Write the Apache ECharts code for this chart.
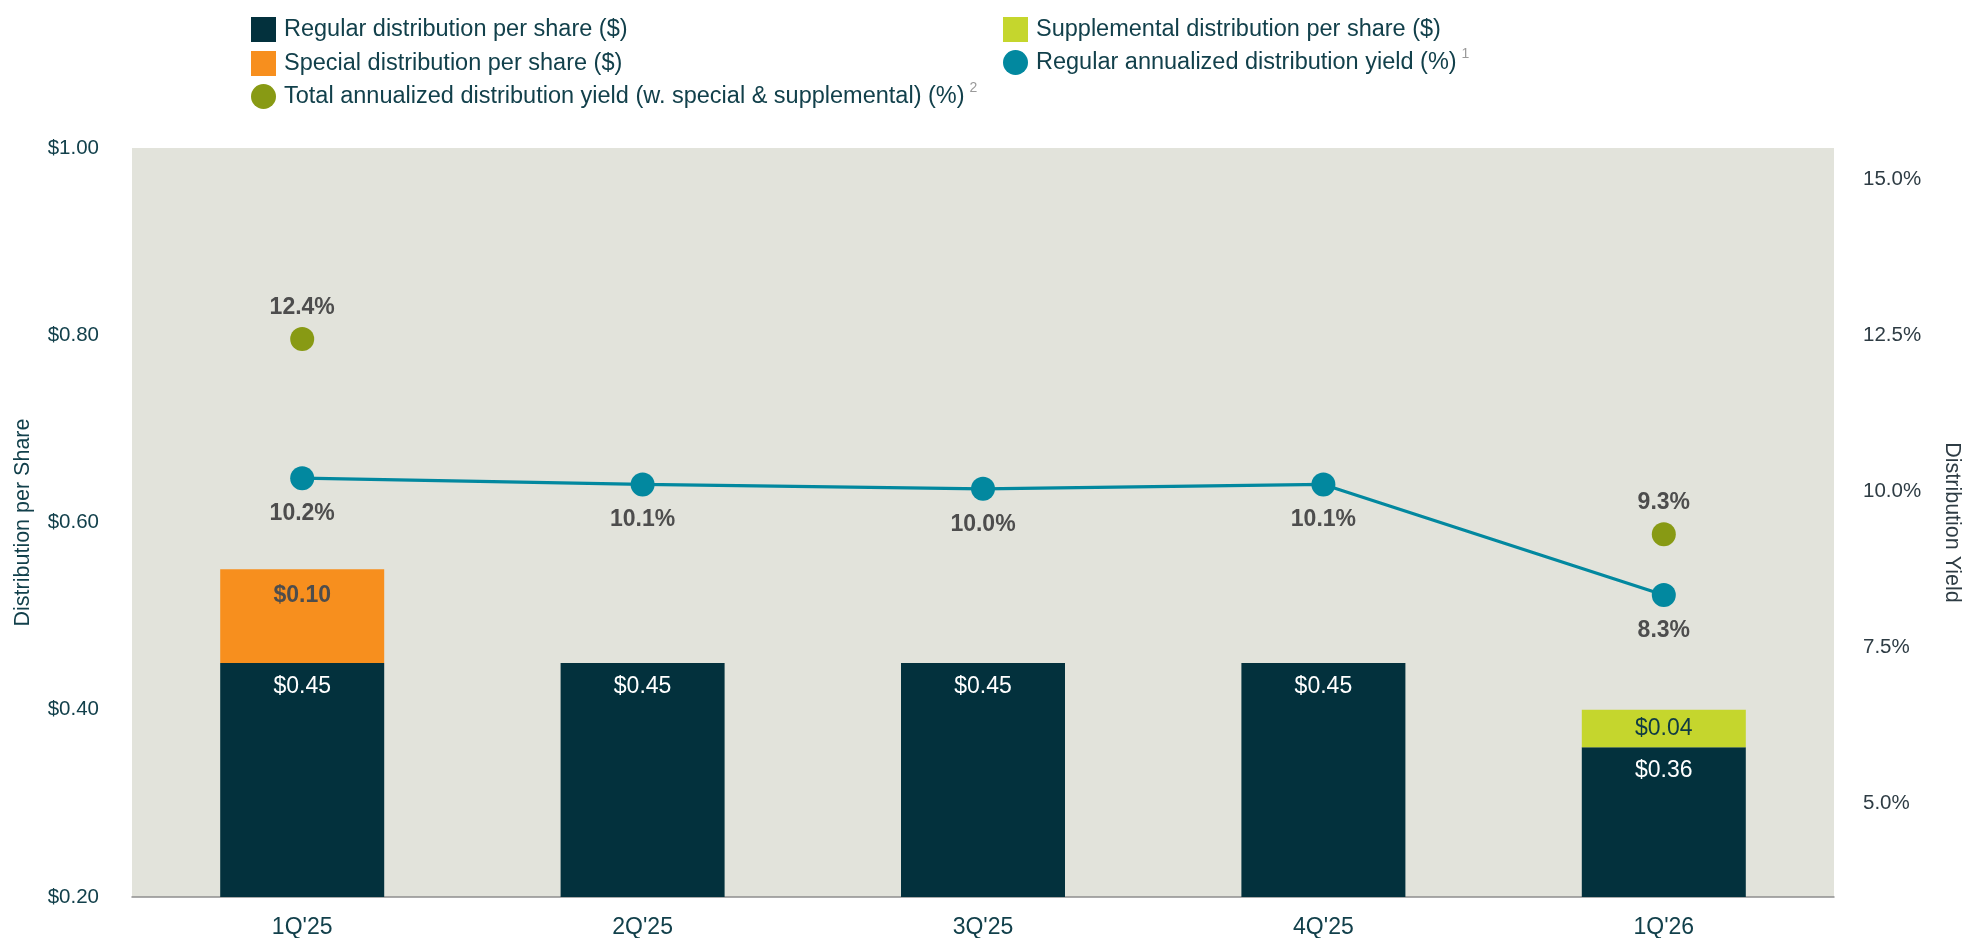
<!DOCTYPE html>
<html>
<head>
<meta charset="utf-8">
<script src="https://cdn.jsdelivr.net/npm/echarts@6/dist/echarts.min.js"></script>
<style>
    html, body { margin: 0; padding: 0; background: #ffffff; }
    #chart { width: 1963px; height: 938px; }
</style>
</head>
<body>
<div id="chart"></div>
<script>
// data
const categories = ["1Q'25", "2Q'25", "3Q'25", "4Q'25", "1Q'26"];
const regularPerShare = [0.45, 0.45, 0.45, 0.45, 0.36];
const specialPerShare = [0.10, '-', '-', '-', '-'];
const supplementalPerShare = ['-', '-', '-', '-', 0.04];
const regularYield = [10.21, 10.11, 10.04, 10.11, 8.34];
const totalYield = [12.44, '-', '-', '-', 9.31];
const shareTicks = [0.2, 0.4, 0.6, 0.8, 1.0];
const yieldTicks = [5, 7.5, 10, 12.5, 15];

const NAME_REG = "Regular distribution per share ($)";
const NAME_SPECIAL = "Special distribution per share ($)";
const NAME_SUPP = "Supplemental distribution per share ($)";
const NAME_REG_YIELD = "Regular annualized distribution yield (%)";
const NAME_TOTAL_YIELD = "Total annualized distribution yield (w. special & supplemental) (%)";

const FONT = '"Liberation Sans", Arial, Helvetica, sans-serif';
const TEXT_DARK = "#12404b";

const chart = echarts.init(document.getElementById("chart"));

// superscript footnote marks in legend
const footnotes = {};
footnotes[NAME_REG_YIELD] = "1";
footnotes[NAME_TOTAL_YIELD] = "2";

function legendText(name) {
    return footnotes[name] ? name + "{sup|" + footnotes[name] + "}" : name;
}

const legendBase = {
    itemWidth: 25,
    itemHeight: 25,
    formatter: legendText,
    textStyle: {
        fontFamily: FONT,
        fontSize: 23.5,
        lineHeight: 25,
        color: TEXT_DARK,
        padding: [0, 0, 0, 3],
        rich: {
            sup: {
                fontFamily: FONT,
                fontSize: 14,
                lineHeight: 10,
                color: "#9a9a9a",
                verticalAlign: "bottom",
                padding: [0, 0, 14, 5],
            },
        },
    },
};

// one legend per entry so the 2-column layout stays fixed
function legendItem(name, icon, left, top) {
    return Object.assign({}, legendBase, {
        left: left,
        top: footnotes[name] ? top - 4 : top,
        data: [{ name: name, icon: icon }],
    });
}

function dollar(p) {
    return "$" + Number(p.value).toFixed(2);
}
function pct(p) {
    return Number(p.value).toFixed(1) + "%";
}

const option = {
    animation: false,
    textStyle: { fontFamily: FONT },
    legend: [
        legendItem(NAME_REG, "rect", 246, 12),
        legendItem(NAME_SPECIAL, "rect", 246, 46),
        legendItem(NAME_TOTAL_YIELD, "circle", 246, 80),
        legendItem(NAME_SUPP, "rect", 998, 12),
        legendItem(NAME_REG_YIELD, "circle", 998, 46),
    ],
    grid: {
        left: 132,
        right: 129,
        top: 148,
        bottom: 41,
        outerBoundsMode: "none",
        show: true,
        backgroundColor: "#E2E3DB",
        borderWidth: 0,
    },
    xAxis: {
        type: "category",
        data: categories,
        axisTick: { show: false },
        axisLine: { lineStyle: { color: "#8f8f8f", width: 1.5 } },
        axisLabel: {
            fontFamily: FONT,
            fontSize: 23,
            color: TEXT_DARK,
            margin: 19,
        },
    },
    yAxis: [
        {
            type: "value",
            min: shareTicks[0],
            max: shareTicks[shareTicks.length - 1],
            interval: 0.2,
            name: "Distribution per Share",
            nameLocation: "middle",
            nameGap: 98,
            nameTextStyle: { fontFamily: FONT, fontSize: 21.5, color: TEXT_DARK },
            splitLine: { show: false },
            axisLine: { show: false },
            axisTick: { show: false },
            axisLabel: {
                fontFamily: FONT,
                fontSize: 20.5,
                color: TEXT_DARK,
                margin: 33,
                formatter: function (v) {
                    return "$" + v.toFixed(2);
                },
            },
        },
        {
            type: "value",
            position: "right",
            min: 3.5,
            max: 15.5,
            name: "Distribution Yield",
            nameLocation: "middle",
            nameRotate: -90,
            nameGap: 107,
            nameTextStyle: { fontFamily: FONT, fontSize: 21.5, color: "#2e3c44" },
            splitLine: { show: false },
            axisLine: { show: false },
            axisTick: { show: false },
            axisLabel: {
                customValues: yieldTicks,
                fontFamily: FONT,
                fontSize: 20.5,
                color: "#2e3c44",
                margin: 29,
                formatter: function (v) {
                    return v.toFixed(1) + "%";
                },
            },
        },
    ],
    series: [
        {
            name: NAME_REG,
            type: "bar",
            stack: "dist",
            barWidth: 164,
            itemStyle: { color: "#03313D" },
            label: {
                show: true,
                position: "insideTop",
                distance: 12,
                fontFamily: FONT,
                fontSize: 23,
                color: "#ffffff",
                formatter: dollar,
            },
            data: regularPerShare,
        },
        {
            name: NAME_SPECIAL,
            type: "bar",
            stack: "dist",
            itemStyle: { color: "#F78F1E" },
            label: {
                show: true,
                position: "insideTop",
                distance: 15,
                fontFamily: FONT,
                fontSize: 23,
                fontWeight: "bold",
                color: "#4d4d4d",
                formatter: dollar,
            },
            data: specialPerShare,
        },
        {
            name: NAME_SUPP,
            type: "bar",
            stack: "dist",
            itemStyle: { color: "#C5D62D" },
            label: {
                show: true,
                position: "inside",
                fontFamily: FONT,
                fontSize: 23,
                color: "#0f3a44",
                formatter: dollar,
            },
            data: supplementalPerShare,
        },
        {
            name: NAME_REG_YIELD,
            type: "line",
            yAxisIndex: 1,
            symbol: "circle",
            symbolSize: 24,
            z: 5,
            itemStyle: { color: "#02889F" },
            lineStyle: { color: "#02889F", width: 3.2 },
            label: {
                show: true,
                position: "bottom",
                distance: 12,
                fontFamily: FONT,
                fontSize: 23,
                fontWeight: "bold",
                color: "#4d4d4d",
                formatter: pct,
            },
            data: regularYield,
        },
        {
            name: NAME_TOTAL_YIELD,
            type: "scatter",
            yAxisIndex: 1,
            symbol: "circle",
            symbolSize: 24,
            z: 5,
            itemStyle: { color: "#889A14", opacity: 1 },
            label: {
                show: true,
                position: "top",
                distance: 8,
                fontFamily: FONT,
                fontSize: 23,
                fontWeight: "bold",
                color: "#4d4d4d",
                formatter: pct,
            },
            data: totalYield,
        },
    ],
};

chart.setOption(option);
window.addEventListener("resize", function () {
    chart.resize();
});
</script>
</body>
</html>
